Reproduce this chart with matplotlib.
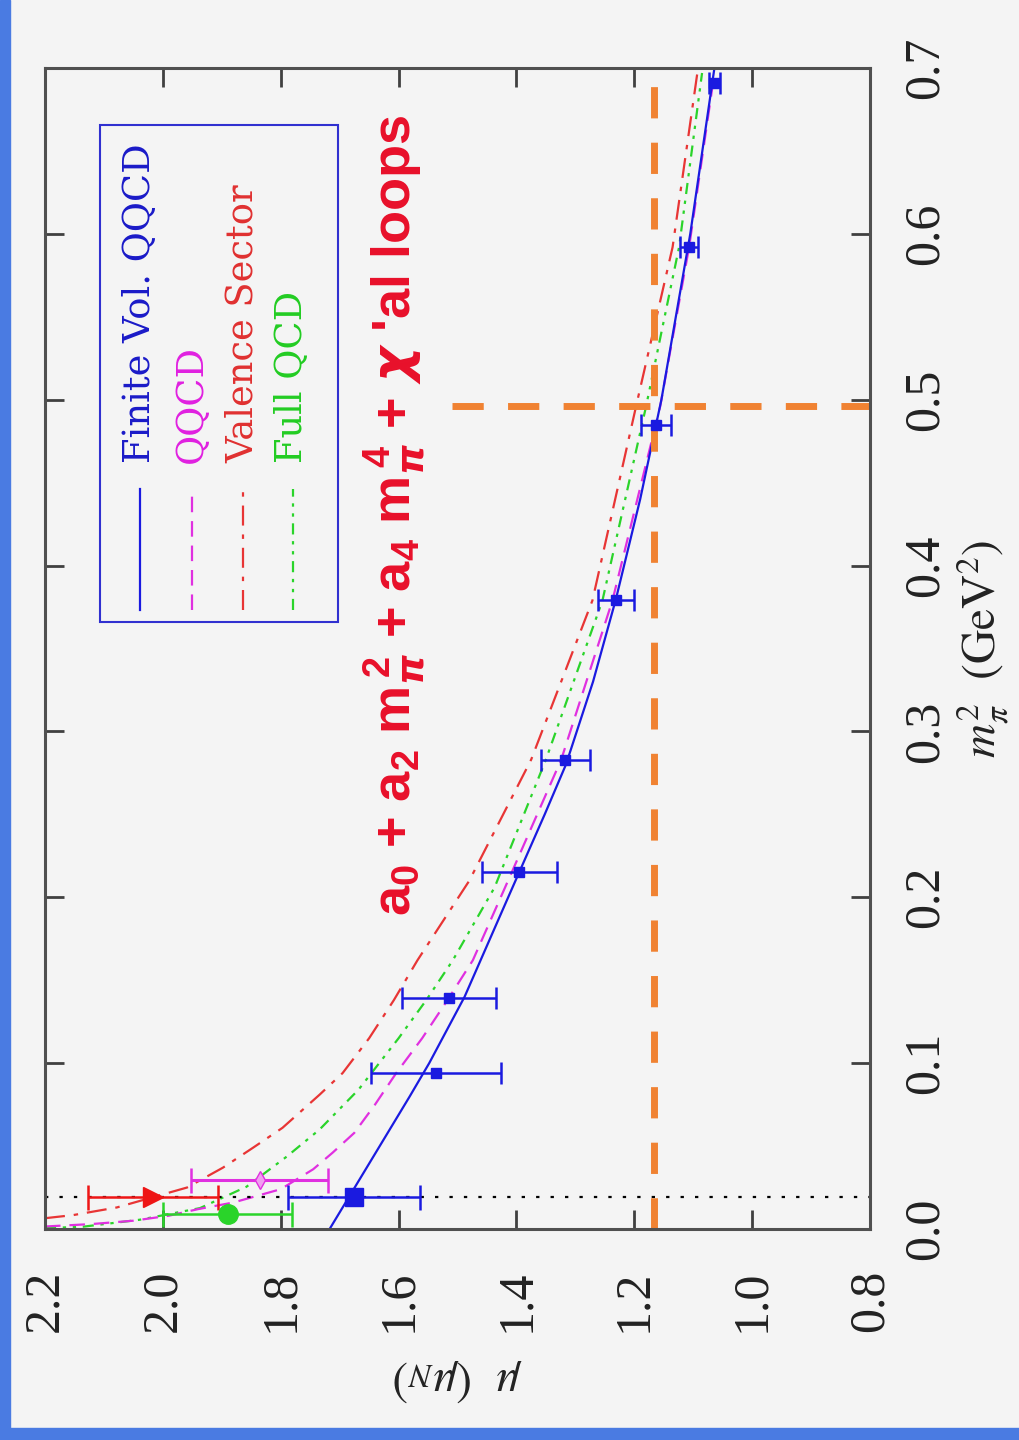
import numpy as np
import matplotlib.pyplot as plt
from matplotlib.patches import Rectangle

# bold sans for the fit formula (mathtext parts)
plt.rcParams['mathtext.fontset'] = 'custom'
plt.rcParams['mathtext.rm'] = 'Liberation Sans:bold'
plt.rcParams['mathtext.it'] = 'DejaVu Sans:italic:bold'
plt.rcParams['mathtext.bf'] = 'Liberation Sans:bold'

# === Lattice data (finite volume QQCD) ===
lat_mpi2 = [0.094, 0.139, 0.215, 0.283, 0.379, 0.485, 0.592, 0.691]
lat_mu = [1.536, 1.515, 1.395, 1.317, 1.231, 1.163, 1.107, 1.064]
lat_err = [0.110, 0.080, 0.064, 0.042, 0.030, 0.025, 0.015, 0.010]

# === Extrapolated values near the physical point ===
phys_mpi2 = 0.0195
fv_phys_mu, fv_phys_err = 1.675, 0.112
val_phys_mu, val_phys_err = 2.017, 0.110
q_phys_mpi2, q_phys_mu, q_phys_err = 0.0295, 1.836, 0.116
full_phys_mpi2, full_phys_mu, full_phys_err = 0.009, 1.890, 0.109

# === Fit curves ===
fv_mpi2 = [0.0, 0.02, 0.04, 0.06, 0.08, 0.1, 0.14, 0.2, 0.25, 0.28, 0.33, 0.38, 0.44, 0.5, 0.6, 0.7]
fv_mu = [1.717, 1.683, 1.649, 1.615, 1.581, 1.548, 1.488, 1.414, 1.352, 1.316, 1.270, 1.231, 1.190, 1.154, 1.105, 1.064]

q_mpi2 = [0.0015, 0.003, 0.005, 0.008, 0.012, 0.016, 0.024, 0.036, 0.046, 0.058, 0.075, 0.094,
          0.115, 0.138, 0.162, 0.215, 0.283, 0.379, 0.496, 0.592, 0.697]
q_mu = [2.2, 2.12, 2.05, 1.99, 1.94, 1.88, 1.80, 1.745, 1.712, 1.675, 1.64, 1.604,
        1.56, 1.517, 1.474, 1.408, 1.324, 1.237, 1.156, 1.107, 1.064]

val_mpi2 = [0.0065, 0.0084, 0.013, 0.025, 0.037, 0.049, 0.061, 0.081, 0.094, 0.115, 0.138,
            0.162, 0.21, 0.283, 0.379, 0.496, 0.592, 0.697]
val_mu = [2.2, 2.152, 2.078, 1.959, 1.898, 1.847, 1.797, 1.734, 1.695, 1.65, 1.608,
          1.568, 1.48, 1.375, 1.271, 1.197, 1.135, 1.093]

full_mpi2 = [0.0005, 0.0014, 0.0056, 0.0126, 0.0255, 0.0436, 0.060, 0.084, 0.115, 0.138,
             0.162, 0.206, 0.283, 0.379, 0.496, 0.592, 0.697]
full_mu = [2.2, 2.135, 2.039, 1.937, 1.858, 1.790, 1.734, 1.668, 1.60, 1.553,
           1.508, 1.437, 1.350, 1.254, 1.180, 1.124, 1.085]

# orange guide lines
guide_mu = 1.166
guide_mpi2 = 0.496
guide_mu_start = 1.51

mu_ticks = [2.2, 2.0, 1.8, 1.6, 1.4, 1.2, 1.0, 0.8]
mpi2_ticks = [0.0, 0.1, 0.2, 0.3, 0.4, 0.5, 0.6, 0.7]

legend_labels = ['Finite Vol. QQCD', 'QQCD', 'Valence Sector', 'Full QCD']

c_blue = '#1a1ae0'
c_mag = '#e030e0'
c_red = '#e83535'
c_green = '#2ad42a'
c_orange = '#f08232'
bg = '#f4f4f4'

fig = plt.figure(figsize=(10.19, 14.4), dpi=100, facecolor=bg)
fig.patches.append(Rectangle((0, 0), 10/1019, 1, transform=fig.transFigure,
                             color='#4a7be2', zorder=0))
fig.patches.append(Rectangle((0, 0), 1, 12/1440, transform=fig.transFigure,
                             color='#4a7be2', zorder=0))

ax = fig.add_axes([45/1019, 211/1440, 825/1019, 1161/1440])
ax.set_facecolor(bg)

# curves (plot is drawn rotated: mu horizontal, m_pi^2 vertical)
ls_green = (0, (5, 3, 1.5, 3, 1.5, 3))
ls_red = (0, (9, 4, 2, 4))
ls_mag = (0, (7, 4))
ax.plot(val_mu, val_mpi2, color=c_red, lw=1.6, ls=ls_red)
ax.plot(full_mu, full_mpi2, color=c_green, lw=1.6, ls=ls_green)
ax.plot(q_mu, q_mpi2, color=c_mag, lw=1.6, ls=ls_mag)
ax.plot(fv_mu, fv_mpi2, color=c_blue, lw=1.6)

# guide lines
ax.axhline(phys_mpi2, color='k', lw=1.6, ls=(0, (1.5, 5)))
ax.axvline(guide_mu, color=c_orange, lw=5, ls=(0, (4.5, 3.5)))
ax.hlines(guide_mpi2, guide_mu_start, 0.8, color=c_orange, lw=5, linestyles=[(0, (4.5, 3.5))])

# data points
ax.errorbar(lat_mu, lat_mpi2, xerr=lat_err, fmt='s', color=c_blue, ms=7.5,
            elinewidth=1.8, capsize=8, capthick=1.8)
ax.errorbar([fv_phys_mu], [phys_mpi2], xerr=[fv_phys_err], fmt='s', color=c_blue, ms=13,
            elinewidth=1.8, capsize=9, capthick=1.8)
ax.errorbar([val_phys_mu], [phys_mpi2], xerr=[val_phys_err], fmt='>', color='#ee1515', ms=14,
            elinewidth=1.8, capsize=9, capthick=1.8)
ax.errorbar([q_phys_mu], [q_phys_mpi2], xerr=[q_phys_err], fmt='d', color=c_mag, ms=9,
            mfc='#f0a0f0', elinewidth=2.2, capsize=9, capthick=1.8)
ax.errorbar([full_phys_mu], [full_phys_mpi2], xerr=[full_phys_err], fmt='o', color=c_green, ms=14,
            elinewidth=1.8, capsize=9, capthick=1.8)

ax.set_xlim(2.2, 0.8)
ax.set_ylim(0.0, 0.7)

# axes styling
for sp in ax.spines.values():
    sp.set_color('#505050')
    sp.set_linewidth(2.2)
ax.yaxis.tick_right()
ax.yaxis.set_label_position('right')
ax.tick_params(axis='both', direction='in', length=14, width=2, colors='#404040',
               top=True, bottom=True, left=True, right=True)
ax.tick_params(axis='x', pad=29)
ax.tick_params(axis='y', pad=23)
ax.set_xticks(mu_ticks)
ax.set_xticklabels(['%.1f' % t for t in mu_ticks], rotation=90, family='Liberation Serif',
                   fontsize=36, color='#222222')
ax.set_yticks(mpi2_ticks)
ax.set_yticklabels(['%.1f' % t for t in mpi2_ticks], rotation=90, va='center',
                   family='Liberation Serif', fontsize=36, color='#222222')

ax.set_xlabel(r'$\mu\ \ (\mu_N)$', rotation=180, fontsize=34, math_fontfamily='stix',
              labelpad=18, color='#222222')
ax.set_ylabel(r'$m_\pi^2\ \ (\mathrm{GeV}^2)$', rotation=90, fontsize=34,
              math_fontfamily='stix', labelpad=4, color='#222222')

# legend box (rotated by hand)
ax.add_patch(Rectangle((0.067, 0.523), 0.288, 0.428, transform=ax.transAxes,
                       fill=False, edgecolor='#3030d0', lw=1.5, zorder=5))
leg_x = [0.115, 0.178, 0.240, 0.300]
leg_colors = [c_blue, c_mag, c_red, c_green]
leg_styles = ['-', ls_mag, ls_red, ls_green]
text_colors = ['#1a1ac8', '#e020e0', '#e03030', '#22cc22']
for lx, lc, lsty, lab, tc in zip(leg_x, leg_colors, leg_styles, legend_labels, text_colors):
    ax.plot([lx, lx], [0.533, 0.637], transform=ax.transAxes, color=lc, lw=1.6, ls=lsty)
    ax.text(lx, 0.660, lab, transform=ax.transAxes, rotation=90, ha='center', va='bottom',
            family='DejaVu Serif', fontsize=26.5, color=tc)

# fit formula
ax.text(0.424, 0.615, r"a$_0$ + a$_2$ m$_\pi^{\,2}$ + a$_4$ m$_\pi^{\,4}$ + $\chi$ 'al loops",
        transform=ax.transAxes, rotation=90, ha='center', va='center',
        family='Liberation Sans', fontweight='bold', fontsize=39, color='#e8102a')

fig.savefig('out.png', dpi=100, facecolor=bg)
